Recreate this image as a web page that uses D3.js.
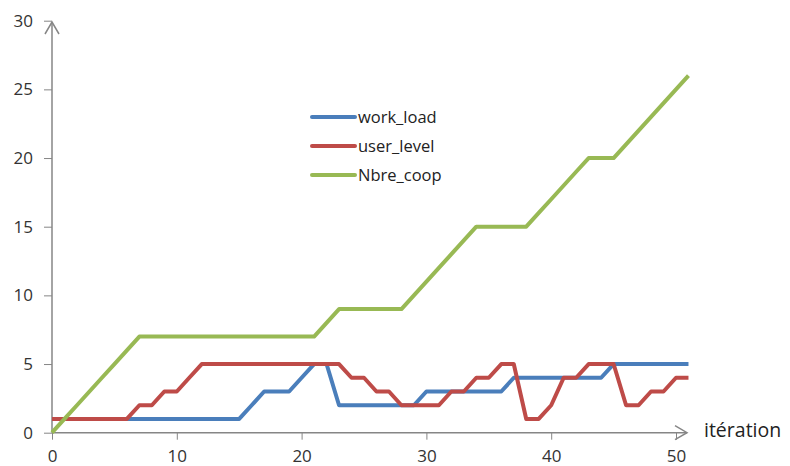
<!DOCTYPE html>
<html>
<head>
<meta charset="utf-8">
<script src="https://cdn.jsdelivr.net/npm/d3@7"></script>
<style>
  body { margin: 0; background: #fff; }
  svg { display: block; }
  .tick text { font-family: "Open Sans", sans-serif; font-size: 17px; fill: #333; }
</style>
</head>
<body>
<svg id="chart" width="790" height="466"></svg>
<script>
// iterations 0..51
var iterations = d3.range(0, 52);

var workLoad = [1,1,1,1,1,1,1,1,1,1, 1,1,1,1,1,1,2,3,3,3, 4,5,5,2,2,2,2,2,2,2,
                3,3,3,3,3,3,3,4,4,4, 4,4,4,4,4,5,5,5,5,5, 5,5];
var userLevel = [1,1,1,1,1,1,1,2,2,3, 3,4,5,5,5,5,5,5,5,5, 5,5,5,5,4,4,3,3,2,2,
                 2,2,3,3,4,4,5,5,1,1, 2,4,4,5,5,5,2,2,3,3, 4,4];
var nbreCoop = [0,1,2,3,4,5,6,7,7,7, 7,7,7,7,7,7,7,7,7,7, 7,7,8,9,9,9,9,9,9,10,
                11,12,13,14,15,15,15,15,15,16, 17,18,19,20,20,20,21,22,23,24, 25,26];

var seriesNames = ["work_load", "user_level", "Nbre_coop"];
var seriesColors = ["#4a7ebb", "#be4b48", "#98b954"];
var xTicks = [0, 10, 20, 30, 40, 50];
var yTicks = [0, 5, 10, 15, 20, 25, 30];

var svg = d3.select("#chart");
var axisColor = "#868686";

var x = d3.scaleLinear().domain([0, 50]).range([52, 676]);
var y = d3.scaleLinear().domain([0, 30]).range([432.7, 20.7]);

// y axis ticks + labels
var yAxis = svg.append("g")
	.attr("transform", "translate(" + x(0) + ",0)")
	.call(d3.axisLeft(y).tickValues(yTicks).tickSize(8).tickPadding(11));
yAxis.select(".domain").remove();
yAxis.selectAll(".tick line").attr("stroke", axisColor);

// x axis ticks + labels, kept just inside the bottom edge
var xAxis = svg.append("g")
	.attr("transform", "translate(0," + y(0) + ")")
	.call(d3.axisBottom(x).tickValues(xTicks).tickSize(7).tickPadding(10.5));
xAxis.select(".domain").remove();
xAxis.selectAll(".tick line").attr("stroke", axisColor);

// axis lines with open arrow heads
var x0 = x(0), y0 = y(0), xEnd = 687, yEnd = 22;
svg.append("line")
	.attr("x1", x0).attr("y1", y0).attr("x2", x0).attr("y2", yEnd)
	.attr("stroke", axisColor).attr("stroke-width", 1.5);
svg.append("path")
	.attr("d", "M" + (x0 - 7) + "," + (yEnd + 12) + "L" + x0 + "," + yEnd + "L" + (x0 + 7) + "," + (yEnd + 12))
	.attr("fill", "none").attr("stroke", axisColor).attr("stroke-width", 1.5);
svg.append("line")
	.attr("x1", x0).attr("y1", y0).attr("x2", xEnd).attr("y2", y0)
	.attr("stroke", axisColor).attr("stroke-width", 1.5);
svg.append("path")
	.attr("d", "M" + (xEnd - 12) + "," + (y0 - 7) + "L" + xEnd + "," + y0 + "L" + (xEnd - 12) + "," + (y0 + 7))
	.attr("fill", "none").attr("stroke", axisColor).attr("stroke-width", 1.5);

svg.append("text")
	.attr("x", 704).attr("y", 437)
	.attr("font-family", "Open Sans, sans-serif")
	.attr("font-size", 19.5)
	.attr("fill", "#222")
	.text("itération");

// series lines
var allSeries = [workLoad, userLevel, nbreCoop];
var line = d3.line()
	.x(function(d, i){ return x(iterations[i]); })
	.y(function(d){ return y(d); });

for(var s = 0; s < allSeries.length; s++){
	svg.append("path")
		.datum(allSeries[s])
		.attr("d", line)
		.attr("fill", "none")
		.attr("stroke", seriesColors[s])
		.attr("stroke-width", 4)
		.attr("stroke-linejoin", "round");
}

// legend
var legend = svg.append("g").attr("transform", "translate(312,117)");
for(var k = 0; k < seriesNames.length; k++){
	var row = legend.append("g").attr("transform", "translate(0," + (k * 29) + ")");
	row.append("line")
		.attr("x1", 0).attr("x2", 43).attr("y1", 0).attr("y2", 0)
		.attr("stroke", seriesColors[k]).attr("stroke-width", 4)
		.attr("stroke-linecap", "round");
	row.append("text")
		.attr("x", 46).attr("y", 0).attr("dy", "0.35em")
		.attr("font-family", "Open Sans, sans-serif")
		.attr("font-size", 16.5)
		.attr("fill", "#222")
		.text(seriesNames[k]);
}
</script>
</body>
</html>
